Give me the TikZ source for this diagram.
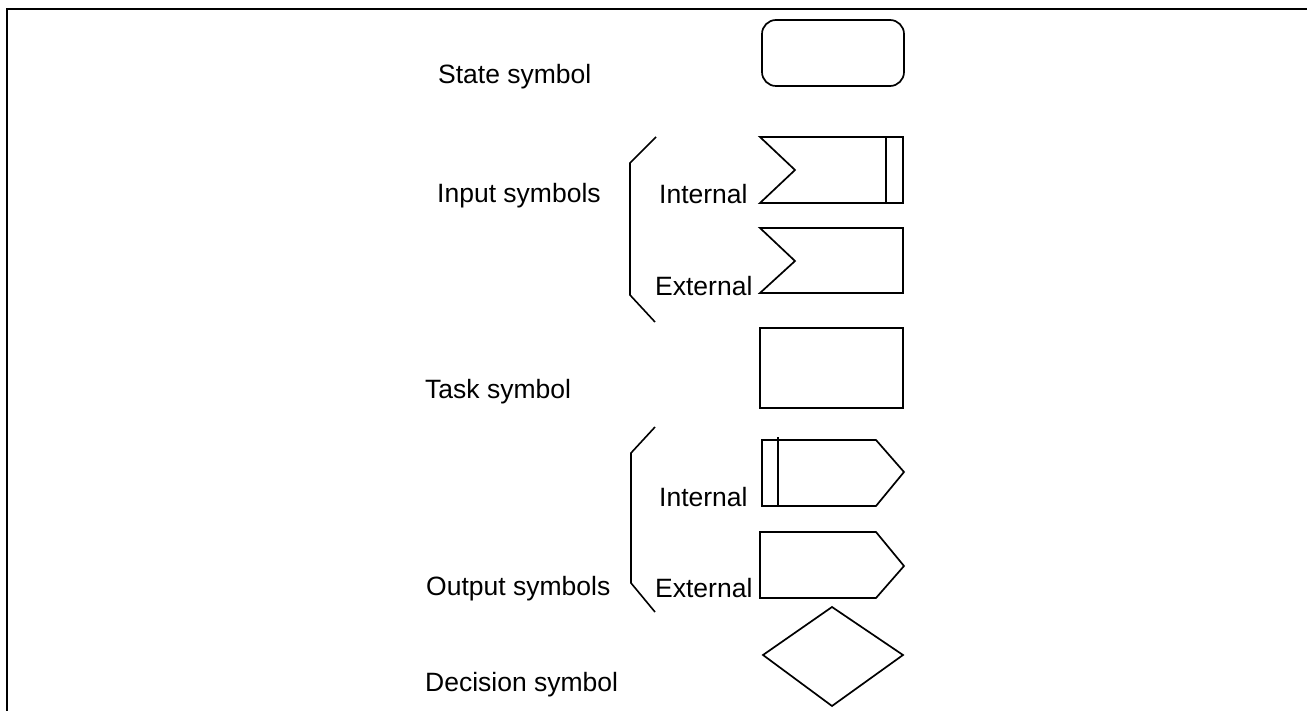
\documentclass[tikz,border=0pt]{standalone}
\usepackage{fontspec}
\setmainfont{Liberation Sans}
\begin{document}
\begin{tikzpicture}[x=1pt,y=-1pt,
  sym/.style={draw=black,line width=1.7pt,line join=miter},
  brace/.style={draw=black,line width=1.6pt},
  lbl/.style={anchor=base west,inner sep=0pt,font=\fontsize{26.5}{30}\selectfont},
  frame/.style={draw=black,line width=2.6pt}]
\useasboundingbox (0,0) rectangle (1307,711);
% frame
\draw[frame] (7,711) -- (7,9) -- (1307,9);
% labels
\node[lbl] (state)  at (438,84)  {State symbol};
\node[lbl] (input)  at (437,203) {Input symbols};
\node[lbl] (iint)   at (659,204) {Internal};
\node[lbl] (iext)   at (655,296) {External};
\node[lbl] (task)   at (425,399) {Task symbol};
\node[lbl] (oint)   at (659,506) {Internal};
\node[lbl] (output) at (426,595) {Output symbols};
\node[lbl] (oext)   at (655,597) {External};
\node[lbl] (dec)    at (425,691) {Decision symbol};
% state symbol
\draw[sym,rounded corners=14pt] (762,20) rectangle (904,86);
% input internal
\draw[sym] (760,137) -- (903,137) -- (903,203) -- (760,203) -- (795,170) -- cycle;
\draw[sym] (886,137) -- (886,203);
% input external
\draw[sym] (760,228) -- (903,228) -- (903,293) -- (760,293) -- (795,261) -- cycle;
% task
\draw[sym] (760,328) rectangle (903,408);
% output internal
\draw[sym] (762,440) -- (876,440) -- (904,472) -- (876,506) -- (762,506) -- cycle;
\draw[sym] (778,437) -- (778,506);
% output external
\draw[sym] (760,532) -- (876,532) -- (904,566) -- (876,598) -- (760,598) -- cycle;
% decision
\draw[sym] (763,655) -- (832,607) -- (903,655) -- (832,706) -- cycle;
% braces
\draw[brace] (656,137) -- (630,163) -- (630,295) -- (655,322);
\draw[brace] (655,427) -- (631,453) -- (631,583) -- (655,612);
\end{tikzpicture}
\end{document}
